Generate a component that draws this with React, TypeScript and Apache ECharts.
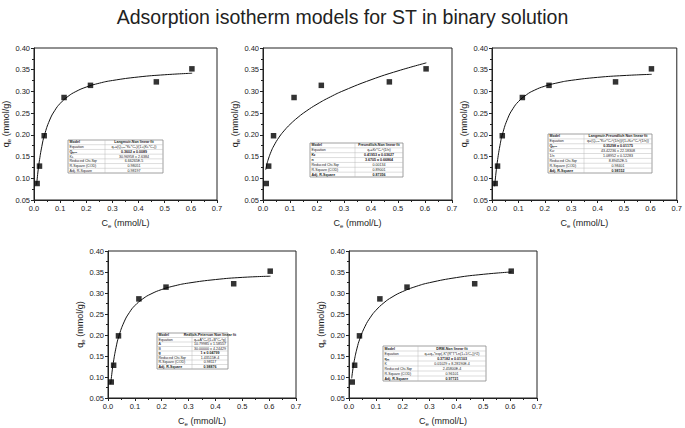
import React, { useEffect, useRef } from 'react';
import * as echarts from 'echarts';

// Experimental data (same in all panels)
const ceValues = [0.012, 0.021, 0.039, 0.115, 0.216, 0.468, 0.604];
const qeValues = [0.088, 0.128, 0.198, 0.286, 0.314, 0.322, 0.352];

// Fitted curves, sampled along Ce
const curveCe = [0.01, 0.015, 0.02, 0.03, 0.04, 0.06, 0.08, 0.1, 0.13, 0.16, 0.2, 0.25, 0.3, 0.4, 0.5, 0.605];
const langmuirFit = [0.0852, 0.1143, 0.1378, 0.1735, 0.1993, 0.2342, 0.2566, 0.2723, 0.2885, 0.2997, 0.3101, 0.319, 0.3252, 0.3333, 0.3384, 0.3419];
const freundlichFit = [0.1197, 0.1336, 0.1445, 0.1614, 0.1746, 0.195, 0.2108, 0.224, 0.2406, 0.2546, 0.2706, 0.2876, 0.3022, 0.3268, 0.3473, 0.3658];
const sipsFit = [0.0815, 0.1121, 0.1371, 0.1751, 0.2023, 0.2384, 0.261, 0.2765, 0.2921, 0.3026, 0.3121, 0.32, 0.3255, 0.3324, 0.3366, 0.3394];
const redlichFit = [0.083, 0.1116, 0.1349, 0.1704, 0.1962, 0.2312, 0.2539, 0.27, 0.2863, 0.2977, 0.3083, 0.3174, 0.3237, 0.332, 0.3372, 0.34];
const drFit = [0.0968, 0.1211, 0.14, 0.1688, 0.1901, 0.2209, 0.2424, 0.2586, 0.2767, 0.2902, 0.3035, 0.3157, 0.3246, 0.3367, 0.3445, 0.3501];

const fits = [langmuirFit, freundlichFit, sipsFit, redlichFit, drFit];

// Fit result tables: [label, value, bold]
const table1: [string, string, boolean][] = [
  ['Model', 'Langmuir-Non linear fit', true],
  ['Equation', 'q\u2091=(Q\u2098\u2090\u2093*K\u029F*C\u2091)/(1+(K\u029F*C\u2091))', false],
  ['Q\u2098\u2090\u2093', '0.3602 \u00b1 0.0089', true],
  ['K\u029F', '30.96958 \u00b1 2.6384', false],
  ['Reduced Chi-Sqr', '6.66265E-5', false],
  ['R-Square (COD)', '0.98051', false],
  ['Adj. R-Square', '0.98197', false],
];
const table2: [string, string, boolean][] = [
  ['Model', 'Freundlich-Non linear fit', true],
  ['Equation', 'q\u2091=K\u0493*C\u2091^(1/n)', false],
  ['K\u0493', '0.41953 \u00b1 0.03627', true],
  ['n', '3.6705 \u00b1 0.66864', true],
  ['Reduced Chi-Sqr', '0.00134', false],
  ['R-Square (COD)', '0.89001', false],
  ['Adj. R-Square', '0.87356', true],
];
const table3: [string, string, boolean][] = [
  ['Model', 'Langmuir-Freundlich Non linear fit', true],
  ['Equation', 'q=(Q\u2098\u2090\u2093*K\u029F\u0493*C\u2091^(1/n))/(1+K\u029F\u0493*C\u2091^(1/n))', false],
  ['Q\u2098\u2090\u2093', '0.35298 \u00b1 0.01175', true],
  ['K\u029F\u0493', '43.42236 \u00b1 22.18308', false],
  ['1/n', '1.08952 \u00b1 0.12283', false],
  ['Reduced Chi-Sqr', '8.89452E-5', false],
  ['R-Square (COD)', '0.98401', false],
  ['Adj. R-Square', '0.98152', true],
];
const table4: [string, string, boolean][] = [
  ['Model', 'Redlich-Peterson Non linear fit', true],
  ['Equation', 'q\u2091=A*C\u2091/(1+B*C\u2091^g)', false],
  ['A', '10.79985 \u00b1 1.58557', false],
  ['B', '30.00000 \u00b1 4.24429', false],
  ['g', '1 \u00b1 0.04799', true],
  ['Reduced Chi-Sqr', '1.43515E-4', false],
  ['R-Square (COD)', '0.98117', false],
  ['Adj. R-Square', '0.98876', true],
];
const table5: [string, string, boolean][] = [
  ['Model', 'DRM-Non linear fit', true],
  ['Equation', 'q\u2091=q\u2098*exp(-K*(R*T*Ln(1+1/C\u2091))^2)', false],
  ['q\u2098', '0.37182 \u00b1 0.01103', true],
  ['K', '0.01029 \u00b1 8.28190E-4', false],
  ['Reduced Chi-Sqr', '2.45800E-4', false],
  ['R-Square (COD)', '0.96101', false],
  ['Adj. R-Square', '0.97721', true],
];
const tables = [table1, table2, table3, table4, table5];

const titleText = 'Adsorption isotherm models for ST in binary solution';

// layout (pixels)
const grids = [
  { left: 28, top: 48, width: 189, height: 152 },
  { left: 263, top: 48, width: 189, height: 152 },
  { left: 492, top: 48, width: 189, height: 152 },
  { left: 108, top: 251, width: 188, height: 151 },
  { left: 349, top: 251, width: 188, height: 151 },
];
const tableBoxes = [
  { x: 68, y: 140, w: 95, h: 33, split: 37 },
  { x: 310, y: 143, w: 93, h: 34, split: 45 },
  { x: 548, y: 134, w: 104, h: 39, split: 36 },
  { x: 157, y: 333, w: 71, h: 36, split: 35 },
  { x: 383, y: 346, w: 103, h: 35, split: 35 },
];

const FONT = 'Liberation Sans, Arial, sans-serif';

function makeTable(box: { x: number; y: number; w: number; h: number; split: number }, rows: [string, string, boolean][]) {
  const children: any[] = [];
  const rh = box.h / rows.length;
  children.push({
    type: 'rect',
    shape: { x: box.x, y: box.y, width: box.w, height: box.h },
    style: { fill: '#fff', stroke: '#888', lineWidth: 0.8 },
  });
  for (let i = 1; i < rows.length; i++) {
    children.push({
      type: 'line',
      shape: { x1: box.x, y1: box.y + i * rh, x2: box.x + box.w, y2: box.y + i * rh },
      style: { stroke: '#bbb', lineWidth: 0.5 },
    });
  }
  children.push({
    type: 'line',
    shape: { x1: box.x + box.split, y1: box.y, x2: box.x + box.split, y2: box.y + box.h },
    style: { stroke: '#bbb', lineWidth: 0.5 },
  });
  rows.forEach((r, i) => {
    const cy = box.y + i * rh + rh / 2;
    children.push({
      type: 'text',
      x: box.x + 1.5,
      y: cy,
      style: {
        text: r[0], fontSize: 3.6, fontFamily: FONT, fill: '#222',
        fontWeight: i === 0 || r[2] ? 'bold' : 'normal', verticalAlign: 'middle', align: 'left',
      },
    });
    children.push({
      type: 'text',
      x: box.x + box.split + (box.w - box.split) / 2,
      y: cy,
      style: {
        text: r[1], fontSize: 3.6, fontFamily: FONT, fill: '#222',
        fontWeight: r[2] ? 'bold' : 'normal', verticalAlign: 'middle', align: 'center',
      },
    });
  });
  return { type: 'group', children };
}

export default function App() {
  const ref = useRef<HTMLDivElement>(null);
  useEffect(() => {
    document.body.style.margin = '0';
    if (!ref.current) return;
    const chart = echarts.init(ref.current, undefined, { renderer: 'svg' });
    const subRich = {
      a: { fontSize: 9, fontFamily: FONT, color: '#222' },
      s: { fontSize: 6, fontFamily: FONT, color: '#222', verticalAlign: 'bottom', padding: [6, 0, 0, 0] },
    };
    const xAxes = grids.map((_, i) => ({
      type: 'value', gridIndex: i, min: 0, max: 0.7, interval: 0.1,
      name: '{a|C}{s|e}{a| (mmol/L)}', nameLocation: 'middle', nameGap: 17,
      nameTextStyle: { rich: subRich },
      axisLine: { show: true, onZero: false, lineStyle: { color: '#222', width: 1 } },
      axisTick: { show: true, length: 3, lineStyle: { color: '#222' } },
      minorTick: { show: true, splitNumber: 2, length: 2, lineStyle: { color: '#222' } },
      splitLine: { show: false },
      axisLabel: { fontSize: 7.5, fontFamily: FONT, color: '#222', margin: 4, formatter: (v: number) => v.toFixed(1) },
    }));
    const yAxes = grids.map((_, i) => ({
      type: 'value', gridIndex: i, min: 0.05, max: 0.4, interval: 0.05,
      name: '{a|q}{s|e}{a| (mmol/g)}', nameLocation: 'middle', nameGap: 21, nameRotate: 90,
      nameTextStyle: { rich: subRich },
      axisLine: { show: true, onZero: false, lineStyle: { color: '#222', width: 1 } },
      axisTick: { show: true, length: 3, lineStyle: { color: '#222' } },
      minorTick: { show: true, splitNumber: 2, length: 2, lineStyle: { color: '#222' } },
      splitLine: { show: false },
      axisLabel: { fontSize: 7.5, fontFamily: FONT, color: '#222', margin: 4, formatter: (v: number) => v.toFixed(2) },
    }));
    const series: any[] = [];
    grids.forEach((_, i) => {
      series.push({
        type: 'line', xAxisIndex: i, yAxisIndex: i, smooth: true, showSymbol: false, symbol: 'none',
        lineStyle: { color: '#111', width: 1 },
        data: curveCe.map((c, k) => [c, fits[i][k]]),
        z: 2,
      });
      series.push({
        type: 'scatter', xAxisIndex: i, yAxisIndex: i, symbol: 'rect', symbolSize: 5.5,
        itemStyle: { color: '#000' },
        data: ceValues.map((c, k) => [c, qeValues[k]]),
        z: 3,
      });
    });
    chart.setOption({
      animation: false,
      backgroundColor: '#fff',
      title: {
        text: titleText, left: 'center', top: 2,
        textStyle: { fontSize: 19.5, fontWeight: 'normal', fontFamily: FONT, color: '#222' },
      },
      grid: grids.map((g) => ({ ...g, show: true, borderColor: '#222', borderWidth: 1, backgroundColor: 'transparent', containLabel: false })),
      xAxis: xAxes,
      yAxis: yAxes,
      series,
      graphic: tables.map((t, i) => makeTable(tableBoxes[i], t)),
    });
    return () => chart.dispose();
  }, []);
  return <div ref={ref} style={{ width: 685, height: 428 }} />;
}
